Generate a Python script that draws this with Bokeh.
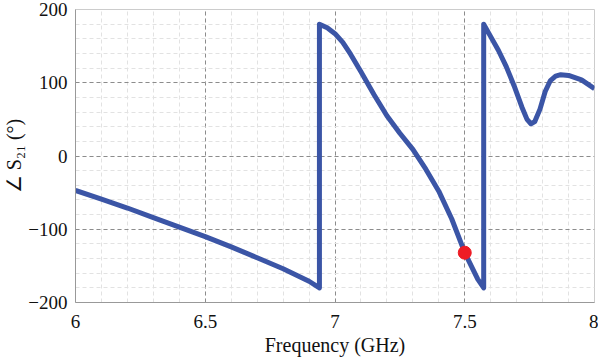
from bokeh.plotting import figure
from bokeh.models import Range1d, FixedTicker
from bokeh.embed import file_html
from bokeh.resources import INLINE

# Phase response of S21 (degrees) vs frequency (GHz), with wrap-around jumps
freq = [6.0, 6.1, 6.2, 6.3, 6.4, 6.5, 6.6, 6.7, 6.8, 6.9, 6.94,
        6.94, 6.97, 7.0, 7.03, 7.06, 7.1, 7.15, 7.2, 7.25, 7.3, 7.35, 7.4, 7.45, 7.5, 7.55, 7.573,
        7.573, 7.6, 7.63, 7.66, 7.69, 7.72, 7.74, 7.755, 7.77, 7.79, 7.81, 7.83, 7.85, 7.87, 7.9, 7.95, 8.0]
phase = [-47, -59, -71, -84, -97, -110, -124, -139, -154, -171, -180,
         180, 175, 167, 155, 139, 115, 84, 55, 31, 9, -18, -48, -86, -132, -168, -180,
         180, 163, 144, 122, 96, 67, 50, 44, 47, 64, 88, 103, 109, 111, 110, 104, 92]

marker_freq = [7.5]
marker_phase = [-132]

x_ticks = [6, 6.5, 7, 7.5, 8]
y_ticks = [-200, -100, 0, 100, 200]

FONT = "Liberation Serif"

p = figure(width=598, height=358, output_backend="svg", toolbar_location=None,
           x_range=Range1d(6, 8), y_range=Range1d(-200, 200),
           min_border_left=74, min_border_right=4, min_border_top=9, min_border_bottom=54)

p.line(freq, phase, line_color="#3b55a6", line_width=5, line_join="round")
p.scatter(marker_freq, marker_phase, size=13, color="#ee1c25")

for ax in (p.xaxis[0], p.yaxis[0]):
    ax.axis_line_color = "#999999"
    ax.major_tick_line_color = None
    ax.minor_tick_line_color = None
    ax.major_tick_out = 0
    ax.major_tick_in = 0
    ax.minor_tick_out = 0
    ax.minor_tick_in = 0
    ax.major_label_text_font = FONT
    ax.major_label_text_font_size = "19px"
    ax.major_label_text_color = "#111111"
    ax.axis_label_text_font = FONT
    ax.axis_label_text_font_size = "20px"
    ax.axis_label_text_font_style = "normal"
    ax.axis_label_text_color = "#111111"

p.xaxis.ticker = FixedTicker(ticks=x_ticks, minor_ticks=[6 + 0.1 * i for i in range(21)])
p.yaxis.ticker = FixedTicker(ticks=y_ticks, minor_ticks=list(range(-200, 201, 20)))
p.xaxis.major_label_overrides = {6: "6", 6.5: "6.5", 7: "7", 7.5: "7.5", 8: "8"}
p.yaxis.major_label_overrides = {-200: "\u2212200", -100: "\u2212100"}
p.xaxis.axis_label = "Frequency (GHz)"
p.yaxis.axis_label = "\u2220 S\u2082\u2081 (\u00b0)"
p.xaxis.axis_label_standoff = 3
p.yaxis.axis_label_standoff = 0
p.xaxis.major_label_standoff = 12
p.yaxis.major_label_standoff = 8

for g in (p.xgrid, p.ygrid):
    g.grid_line_color = "#8c8c8c"
    g.grid_line_dash = "4 3"
    g.grid_line_width = 1
    g.minor_grid_line_color = "#e2e2e2"
    g.minor_grid_line_dash = "4 3"
    g.minor_grid_line_width = 1

p.outline_line_color = "#cccccc"
p.outline_line_width = 1

open("out.html", "w").write(file_html(p, INLINE))
